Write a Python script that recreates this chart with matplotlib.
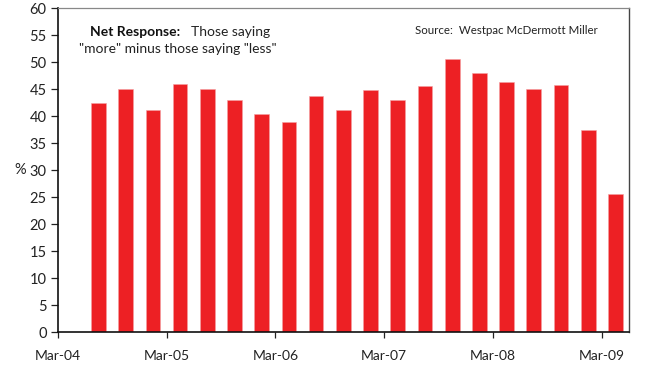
import matplotlib
matplotlib.use("Agg")
import matplotlib.pyplot as plt
import numpy as np

# Quarterly net response, Jun-04 .. Mar-09
quarters = ["Jun-04", "Sep-04", "Dec-04", "Mar-05", "Jun-05", "Sep-05", "Dec-05",
            "Mar-06", "Jun-06", "Sep-06", "Dec-06", "Mar-07", "Jun-07", "Sep-07",
            "Dec-07", "Mar-08", "Jun-08", "Sep-08", "Dec-08", "Mar-09"]
net_response = [42.4, 45.0, 41.2, 46.0, 45.0, 43.0, 40.3, 39.0, 43.7, 41.2,
                44.8, 43.0, 45.6, 50.6, 47.9, 46.4, 45.0, 45.8, 37.4, 25.5]
tick_labels = ["Mar-04", "Mar-05", "Mar-06", "Mar-07", "Mar-08", "Mar-09"]
y_ticks = list(range(0, 61, 5))

plt.rcParams['font.family'] = ['Lato', 'DejaVu Sans']
plt.rcParams['font.size'] = 9.5

fig = plt.figure(figsize=(6.52, 3.65), dpi=100)
ax = fig.add_axes([57.7 / 652, 1 - 332.3 / 365, (629 - 57.7) / 652, (332.3 - 8) / 365])

x = np.arange(len(quarters)) + 1.5
ax.bar(x, net_response, width=0.54, color="#ED2024", edgecolor="#F4A0A2",
       linewidth=0.4)

ax.set_xlim(0, 21.0)
ax.set_ylim(0, 60)
ax.set_yticks(y_ticks)
ax.set_xticks(np.arange(len(tick_labels)) * 4)
ax.set_xticklabels(tick_labels)

ax.tick_params(axis='y', direction='out', length=5, width=0.9, colors='#222222',
               labelsize=10.5, pad=3)
ax.tick_params(axis='x', direction='out', length=4, width=0.9, colors='#222222',
               labelsize=10, pad=9)

for side in ("left", "bottom"):
    ax.spines[side].set_color("#111111")
    ax.spines[side].set_linewidth(1.2)
ax.spines["top"].set_color("#888888")
ax.spines["top"].set_linewidth(0.9)
ax.spines["right"].set_color("#444444")
ax.spines["right"].set_linewidth(1.0)

ax.text(-0.066, 30, "%", transform=ax.get_yaxis_transform(), ha="center",
        va="center", fontsize=10.5, color="#222222")

ax.text(0.0565, 0.926, "Net Response:", transform=ax.transAxes, ha="left",
        va="center", fontsize=10, fontweight="bold", color="#111111")
ax.text(0.2337, 0.926, "Those saying", transform=ax.transAxes, ha="left",
        va="center", fontsize=10, color="#222222")
ax.text(0.2105, 0.873, "\"more\" minus those saying \"less\"", transform=ax.transAxes,
        ha="center", va="center", fontsize=10, color="#222222")
ax.text(0.946, 0.93, "Source:  Westpac McDermott Miller", transform=ax.transAxes,
        ha="right", va="center", fontsize=8.3, color="#222222")

fig.savefig("out.png", dpi=100)
